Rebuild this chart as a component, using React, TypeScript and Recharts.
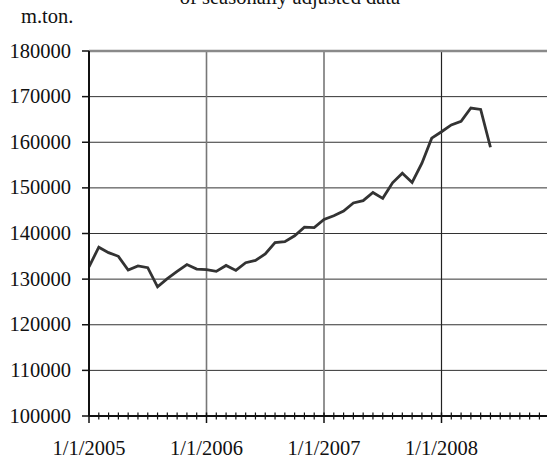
import React from "react";
import { LineChart, Line, XAxis, YAxis, CartesianGrid, ReferenceLine } from "recharts";

// Monthly production, seasonally adjusted (m.ton.)
const months = [
  "2005-01", "2005-02", "2005-03", "2005-04", "2005-05", "2005-06",
  "2005-07", "2005-08", "2005-09", "2005-10", "2005-11", "2005-12",
  "2006-01", "2006-02", "2006-03", "2006-04", "2006-05", "2006-06",
  "2006-07", "2006-08", "2006-09", "2006-10", "2006-11", "2006-12",
  "2007-01", "2007-02", "2007-03", "2007-04", "2007-05", "2007-06",
  "2007-07", "2007-08", "2007-09", "2007-10", "2007-11", "2007-12",
  "2008-01", "2008-02", "2008-03", "2008-04", "2008-05", "2008-06",
];

const tonnes = [
  132700, 137000, 135800, 135000, 132000, 132900,
  132500, 128300, 130100, 131700, 133200, 132200,
  132100, 131700, 133000, 131900, 133600, 134100,
  135500, 138000, 138200, 139500, 141400, 141300,
  143100, 143900, 144900, 146700, 147200, 149000,
  147700, 151100, 153200, 151200, 155400, 160900,
  162300, 163800, 164600, 167500, 167200, 158900,
];

const yearTickMonths = [0, 12, 24, 36];
const yearTickLabels = ["1/1/2005", "1/1/2006", "1/1/2007", "1/1/2008"];
const yTicks = [100000, 110000, 120000, 130000, 140000, 150000, 160000, 170000, 180000];
const xDomainMonths = 48;
const monthTicks = Array.from({ length: xDomainMonths }, (_, i) => i);

const data = months.map((m, i) => ({ m: i, label: m, v: tonnes[i] }));

const FONT = '"Liberation Serif"';
const FS = 20.5;

const XTick = (props: any) => {
  const { x, y, payload } = props;
  const idx = yearTickMonths.indexOf(payload.value);
  if (idx >= 0) {
    return (
      <g>
        <line x1={x} x2={x} y1={y - 3.5} y2={y + 7} stroke="#111" strokeWidth={1.5} />
        <text x={x} y={y + 39} textAnchor="middle" fontSize={FS} fontFamily={FONT} fill="#111">
          {yearTickLabels[idx]}
        </text>
      </g>
    );
  }
  return <line x1={x} x2={x} y1={y - 3.5} y2={y + 3.5} stroke="#111" strokeWidth={1.2} />;
};

const YTick = (props: any) => {
  const { x, y, payload } = props;
  return (
    <g>
      <line x1={x - 7} x2={x} y1={y} y2={y} stroke="#111" strokeWidth={1.5} />
      <text x={x - 18} y={y + 6.5} textAnchor="end" fontSize={FS} fontFamily={FONT} fill="#111">
        {payload.value}
      </text>
    </g>
  );
};

export default function App() {
  return (
    <div
      style={{
        position: "absolute",
        left: 0,
        top: 0,
        width: 547,
        height: 461,
        overflow: "hidden",
        background: "#fff",
      }}
    >
      <div
        style={{
          position: "absolute",
          left: 0,
          width: 580,
          top: -15,
          textAlign: "center",
          fontFamily: FONT,
          fontSize: FS,
          lineHeight: "24px",
          color: "#111",
        }}
      >
        of seasonally adjusted data
      </div>
      <div
        style={{
          position: "absolute",
          left: 21,
          top: 4,
          fontFamily: FONT,
          fontSize: FS,
          lineHeight: "24px",
          color: "#111",
        }}
      >
        m.ton.
      </div>
      <div style={{ position: "absolute", left: 0, top: 0 }}>
        <LineChart
          width={560}
          height={461}
          data={data}
          margin={{ top: 51, right: 1, bottom: 0, left: 0 }}
        >
          <CartesianGrid vertical={false} stroke="#333" strokeWidth={1} />
          {yearTickMonths.slice(1).map((m) => (
            <ReferenceLine key={m} x={m} stroke={m === 36 ? "#222" : "#777"} strokeWidth={m === 36 ? 1.2 : 1.6} />
          ))}
          <ReferenceLine y={180000} stroke="#8a8a8a" strokeWidth={2.5} />
          <XAxis
            type="number"
            dataKey="m"
            domain={[0, xDomainMonths]}
            ticks={monthTicks}
            interval={0}
            tick={<XTick />}
            tickLine={false}
            tickSize={0}
            tickMargin={0}
            axisLine={{ stroke: "#111", strokeWidth: 2 }}
            height={45}
            allowDataOverflow
          />
          <YAxis
            type="number"
            domain={[100000, 180000]}
            ticks={yTicks}
            interval={0}
            tick={<YTick />}
            tickLine={false}
            tickSize={0}
            tickMargin={0}
            axisLine={{ stroke: "#111", strokeWidth: 2 }}
            width={89}
            allowDataOverflow
          />
          <Line
            type="linear"
            dataKey="v"
            stroke="#333"
            strokeWidth={2.8}
            dot={false}
            isAnimationActive={false}
          />
        </LineChart>
      </div>
    </div>
  );
}
